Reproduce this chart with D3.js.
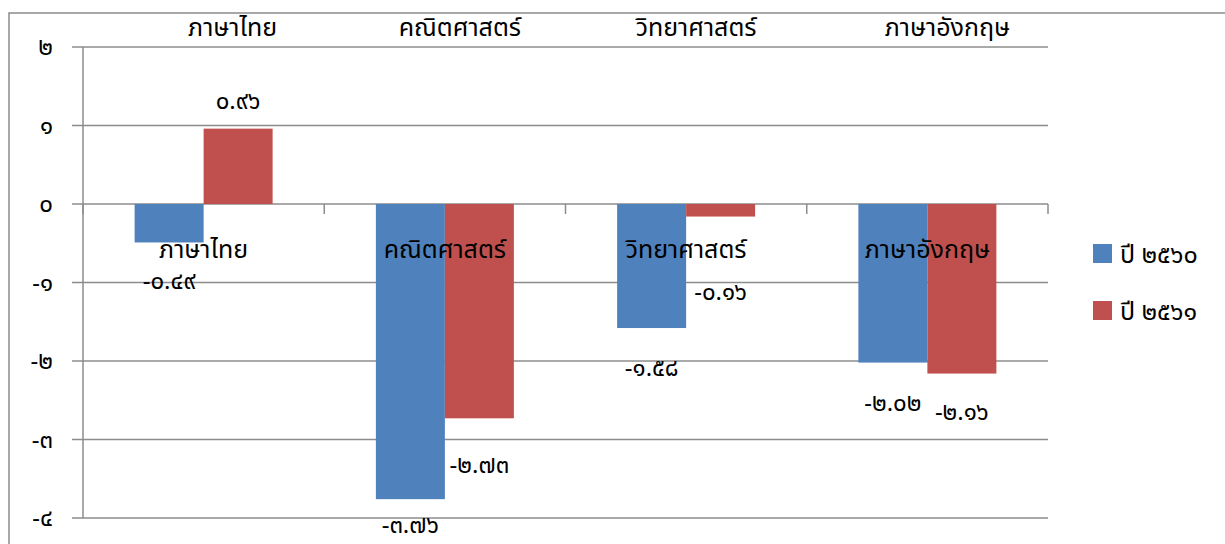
<!DOCTYPE html>
<html>
<head>
<meta charset="utf-8">
<script src="https://cdn.jsdelivr.net/npm/d3@7"></script>
<style>
  body { margin: 0; background: #fff; }
  svg { display: block; font-family: "Noto Sans Thai", "Tahoma", "Noto Sans", "DejaVu Sans", sans-serif; }
</style>
</head>
<body>
<svg id="chart" width="1225" height="544"></svg>
<script>
// data
const subjects = ["ภาษาไทย", "คณิตศาสตร์", "วิทยาศาสตร์", "ภาษาอังกฤษ"];
const seriesNames = ["ปี ๒๕๖๐", "ปี ๒๕๖๑"];
const values2560 = [-0.49, -3.76, -1.58, -2.02];
const values2561 = [0.96, -2.73, -0.16, -2.16];
const valueLabels2560 = ["-๐.๔๙", "-๓.๗๖", "-๑.๕๘", "-๒.๐๒"];
const valueLabels2561 = ["๐.๙๖", "-๒.๗๓", "-๐.๑๖", "-๒.๑๖"];
const yTicks = [2, 1, 0, -1, -2, -3, -4];
const yTickLabels = ["๒", "๑", "๐", "-๑", "-๒", "-๓", "-๔"];

// label nudges (px beyond bar end), labels were moved by hand in the original
const labelNudge = [[38, 25, 40, 40], [28, 46, 75, 38]];
// top header labels sit a little right of the band centre
const topLabelShift = [29, 15, 10, 20];

const colors = ["#4F81BD", "#C0504D"];
const gridColor = "#8c8c8c";

const svg = d3.select("#chart");
const margin = { top: 47, left: 83, right: 177, bottom: 26 };
const W = 1225, H = 544;
const width = W - margin.left - margin.right;
const height = H - margin.top - margin.bottom;

// outer chart border (top and left visible)
svg.append("path")
  .attr("d", `M9,${H} V13 H${W}`)
  .attr("fill", "none")
  .attr("stroke", gridColor)
  .attr("stroke-width", 1.5);

const g = svg.append("g")
  .attr("transform", `translate(${margin.left},${margin.top})`);

const x0 = d3.scaleBand()
  .domain(subjects)
  .range([0, width])
  .paddingInner(0.428)
  .paddingOuter(0.214);

const x1 = d3.scaleBand()
  .domain(seriesNames)
  .range([0, x0.bandwidth()]);

const y = d3.scaleLinear()
  .domain([-4, 2])
  .range([height, 0]);

// gridlines + y ticks
g.append("g")
  .selectAll("line")
  .data(yTicks)
  .join("line")
    .attr("x1", -11)
    .attr("x2", width)
    .attr("y1", d => y(d))
    .attr("y2", d => y(d))
    .attr("stroke", gridColor)
    .attr("stroke-width", 1.5);

// y axis line
g.append("line")
  .attr("x1", 0).attr("x2", 0)
  .attr("y1", y(2)).attr("y2", y(-4))
  .attr("stroke", gridColor)
  .attr("stroke-width", 1.5);

// category ticks on zero line
const step = x0.step();
g.append("g")
  .selectAll("line")
  .data(d3.range(subjects.length + 1))
  .join("line")
    .attr("x1", i => i * step)
    .attr("x2", i => i * step)
    .attr("y1", y(0))
    .attr("y2", y(0) + 10)
    .attr("stroke", gridColor)
    .attr("stroke-width", 1.5);

// y tick labels
g.append("g")
  .selectAll("text")
  .data(yTicks)
  .join("text")
    .attr("x", -30)
    .attr("y", d => y(d))
    .attr("dy", "0.35em")
    .attr("text-anchor", "end")
    .style("font-size", "24px")
    .text((d, i) => yTickLabels[i]);

// bars
const seriesValues = [values2560, values2561];
const seriesLabels = [valueLabels2560, valueLabels2561];

seriesNames.forEach((name, s) => {
  g.append("g")
    .selectAll("rect")
    .data(subjects)
    .join("rect")
      .attr("x", d => x0(d) + x1(name))
      .attr("width", x1.bandwidth())
      .attr("y", (d, i) => y(Math.max(0, seriesValues[s][i])))
      .attr("height", (d, i) => Math.abs(y(seriesValues[s][i]) - y(0)))
      .attr("fill", colors[s]);
});

// category labels inside plot
g.append("g")
  .selectAll("text")
  .data(subjects)
  .join("text")
    .attr("x", d => x0(d) + x0.bandwidth() / 2)
    .attr("y", y(0) + 45)
    .attr("dy", "0.35em")
    .attr("text-anchor", "middle")
    .style("font-size", "25px")
    .text(d => d);

// category labels on top
g.append("g")
  .selectAll("text")
  .data(subjects)
  .join("text")
    .attr("x", (d, i) => x0(d) + x0.bandwidth() / 2 + topLabelShift[i])
    .attr("y", -20)
    .attr("dy", "0.35em")
    .attr("text-anchor", "middle")
    .style("font-size", "25px")
    .text(d => d);

// value labels
seriesNames.forEach((name, s) => {
  g.append("g")
    .selectAll("text")
    .data(subjects)
    .join("text")
      .attr("x", d => x0(d) + x1(name) + x1.bandwidth() / 2)
      .attr("y", (d, i) => {
        const v = seriesValues[s][i];
        const n = labelNudge[s][i];
        return v >= 0 ? y(v) - n : y(v) + n;
      })
      .attr("dy", "0.35em")
      .attr("text-anchor", "middle")
      .style("font-size", "24px")
      .text((d, i) => seriesLabels[s][i]);
});

// legend
const legend = svg.append("g")
  .attr("transform", "translate(1093,244)");
seriesNames.forEach((name, s) => {
  const row = legend.append("g")
    .attr("transform", `translate(0,${s * 57})`);
  row.append("rect")
    .attr("width", 19)
    .attr("height", 19)
    .attr("fill", colors[s]);
  row.append("text")
    .attr("x", 27)
    .attr("y", 10)
    .attr("dy", "0.35em")
    .style("font-size", "25px")
    .text(name);
});
</script>
</body>
</html>
